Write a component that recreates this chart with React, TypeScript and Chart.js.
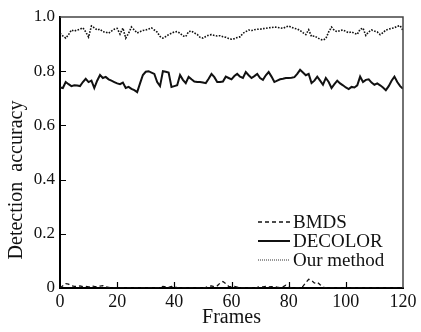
import React, { useEffect, useRef } from 'react';
import { Chart, registerables } from 'chart.js';

Chart.register(...registerables);

// Frames 0..120 (categories)
const frames: number[] = Array.from({ length: 121 }, (_, i) => i);

const bmds: number[] = [
  0.000, 0.008, 0.016, 0.014, 0.008, 0.006, 0.006, 0.008, 0.005, 0.006,
  0.004, 0.008, 0.006, 0.005, 0.007, 0.009, 0.004, 0.002, 0.000, 0.000,
  0.000, 0.000, 0.000, 0.000, 0.000, 0.000, 0.000, 0.000, 0.000, 0.000,
  0.000, 0.000, 0.000, 0.000, 0.000, 0.002, 0.006, 0.004, 0.002, 0.006,
  0.004, 0.001, 0.000, 0.000, 0.000, 0.000, 0.000, 0.000, 0.000, 0.000,
  0.000, 0.002, 0.006, 0.008, 0.005, 0.008, 0.018, 0.024, 0.016, 0.006,
  0.004, 0.006, 0.003, 0.000, 0.000, 0.000, 0.000, 0.000, 0.000, 0.002,
  0.005, 0.004, 0.006, 0.004, 0.005, 0.006, 0.003, 0.001, 0.004, 0.010,
  0.004, 0.000, 0.000, 0.000, 0.000, 0.006, 0.020, 0.032, 0.028, 0.018,
  0.022, 0.012, 0.004, 0.000, 0.000, 0.000, 0.000, 0.000, 0.000, 0.000,
  0.000, 0.000, 0.000, 0.000, 0.000, 0.000, 0.000, 0.000, 0.000, 0.000,
  0.000, 0.000, 0.000, 0.000, 0.000, 0.000, 0.000, 0.000, 0.000, 0.000,
  0.000,
];

const decolor: number[] = [
  0.740, 0.738, 0.760, 0.752, 0.745, 0.748, 0.747, 0.745, 0.760, 0.772,
  0.760, 0.765, 0.738, 0.765, 0.786, 0.775, 0.779, 0.770, 0.765, 0.760,
  0.755, 0.752, 0.758, 0.738, 0.742, 0.735, 0.730, 0.723, 0.755, 0.786,
  0.798, 0.800, 0.795, 0.790, 0.760, 0.745, 0.800, 0.798, 0.795, 0.742,
  0.745, 0.748, 0.786, 0.768, 0.756, 0.779, 0.770, 0.762, 0.760, 0.760,
  0.758, 0.756, 0.772, 0.790, 0.778, 0.760, 0.760, 0.762, 0.780, 0.775,
  0.770, 0.782, 0.790, 0.780, 0.775, 0.797, 0.785, 0.775, 0.782, 0.790,
  0.775, 0.768, 0.785, 0.797, 0.780, 0.760, 0.765, 0.770, 0.772, 0.775,
  0.775, 0.776, 0.778, 0.790, 0.805, 0.795, 0.785, 0.790, 0.756, 0.765,
  0.780, 0.765, 0.750, 0.775, 0.760, 0.738, 0.752, 0.765, 0.755, 0.748,
  0.740, 0.734, 0.742, 0.740, 0.748, 0.780, 0.760, 0.768, 0.770, 0.758,
  0.750, 0.755, 0.748, 0.740, 0.730, 0.745, 0.765, 0.780, 0.760, 0.745,
  0.735,
];

const ourMethod: number[] = [
  0.940, 0.930, 0.922, 0.935, 0.952, 0.948, 0.952, 0.955, 0.960, 0.945,
  0.926, 0.967, 0.960, 0.952, 0.955, 0.946, 0.944, 0.940, 0.948, 0.955,
  0.958, 0.937, 0.959, 0.922, 0.940, 0.963, 0.952, 0.941, 0.946, 0.950,
  0.952, 0.956, 0.960, 0.952, 0.944, 0.928, 0.922, 0.928, 0.935, 0.940,
  0.945, 0.946, 0.940, 0.930, 0.928, 0.946, 0.948, 0.941, 0.936, 0.925,
  0.922, 0.928, 0.933, 0.935, 0.932, 0.930, 0.931, 0.927, 0.925, 0.921,
  0.918, 0.920, 0.924, 0.927, 0.940, 0.946, 0.952, 0.950, 0.953, 0.955,
  0.955, 0.957, 0.958, 0.960, 0.961, 0.963, 0.962, 0.960, 0.958, 0.963,
  0.967, 0.962, 0.958, 0.956, 0.950, 0.942, 0.935, 0.953, 0.928, 0.930,
  0.924, 0.918, 0.915, 0.920, 0.945, 0.963, 0.950, 0.946, 0.950, 0.952,
  0.947, 0.942, 0.945, 0.940, 0.936, 0.955, 0.959, 0.932, 0.945, 0.952,
  0.948, 0.945, 0.935, 0.942, 0.952, 0.955, 0.958, 0.960, 0.966, 0.968,
  0.950,
];

const seriesNames: string[] = ['BMDS', 'DECOLOR', 'Our method'];
const xTicks: number[] = [0, 20, 40, 60, 80, 100, 120];
const yTicks: number[] = [0, 0.2, 0.4, 0.6, 0.8, 1.0];
const xTitle = 'Frames';
const yTitle = 'Detection  accuracy';

const SERIF = "'Liberation Serif', 'Times New Roman', serif";

const decorPlugin = {
  id: 'decor',
  afterDraw(chart: any) {
    const ctx = chart.ctx as CanvasRenderingContext2D;
    const { left, right, top, bottom } = chart.chartArea;
    const xs = chart.scales.x;
    const ys = chart.scales.y;
    ctx.save();
    // top & right border
    ctx.strokeStyle = '#444';
    ctx.lineWidth = 1.5;
    ctx.beginPath();
    ctx.moveTo(left, top);
    ctx.lineTo(right, top);
    ctx.lineTo(right, bottom);
    ctx.stroke();
    // inward ticks
    ctx.strokeStyle = '#000';
    ctx.lineWidth = 1.2;
    ctx.beginPath();
    yTicks.forEach((v) => {
      if (v <= 0 || v >= 1) return;
      const y = Math.round(ys.getPixelForValue(v)) + 0.5;
      ctx.moveTo(left, y);
      ctx.lineTo(left + 6, y);
    });
    xTicks.forEach((v) => {
      if (v <= 0 || v >= 120) return;
      const x = Math.round(xs.getPixelForValue(v)) + 0.5;
      ctx.moveTo(x, bottom);
      ctx.lineTo(x, bottom - 6);
    });
    ctx.stroke();

    // axis titles
    ctx.fillStyle = '#111';
    ctx.font = `20px ${SERIF}`;
    ctx.textAlign = 'center';
    ctx.textBaseline = 'middle';
    ctx.fillText(xTitle, (left + right) / 2, 318);
    ctx.save();
    ctx.translate(17, 180);
    ctx.rotate(-Math.PI / 2);
    ctx.font = `20px ${SERIF}`;
    ctx.fillText(yTitle, 0, 0);
    ctx.restore();

    // legend
    const rows = [222, 241, 260];
    chart.data.datasets.forEach((ds: any, i: number) => {
      const y = rows[i];
      ctx.save();
      ctx.strokeStyle = ds.legendColor || ds.borderColor;
      ctx.lineWidth = ds.legendWidth || ds.borderWidth;
      ctx.setLineDash(ds.legendDash || ds.borderDash || []);
      ctx.beginPath();
      ctx.moveTo(258, y);
      ctx.lineTo(290, y);
      ctx.stroke();
      ctx.restore();
      ctx.fillStyle = '#111';
      ctx.font = `19px ${SERIF}`;
      ctx.textAlign = 'left';
      ctx.textBaseline = 'middle';
      ctx.fillText(ds.label, 293, y + 1);
    });
    ctx.restore();
  },
};

export default function App() {
  const canvasRef = useRef<HTMLCanvasElement | null>(null);

  useEffect(() => {
    if (!canvasRef.current) return;
    const mk = (arr: number[]) => frames.map((f, i) => ({ x: f, y: arr[i] }));
    const chart = new Chart(canvasRef.current, {
      type: 'line',
      data: {
        datasets: [
          {
            label: seriesNames[0],
            data: mk(bmds),
            borderColor: '#111',
            borderWidth: 1.3,
            borderDash: [4, 3],
            pointRadius: 0,
            tension: 0,
          },
          {
            label: seriesNames[1],
            data: mk(decolor),
            borderColor: '#111',
            borderWidth: 2,
            pointRadius: 0,
            tension: 0,
          },
          {
            label: seriesNames[2],
            data: mk(ourMethod),
            borderColor: '#111',
            borderWidth: 1.6,
            borderDash: [1.6, 1.4],
            legendDash: [1, 1],
            legendWidth: 1.2,
            legendColor: '#333',
            pointRadius: 0,
            tension: 0,
          } as any,
        ],
      },
      options: {
        animation: false,
        responsive: true,
        maintainAspectRatio: false,
        layout: { padding: { top: 17, right: 18, left: 0, bottom: 0 } },
        plugins: {
          legend: { display: false },
          tooltip: { enabled: false },
        },
        scales: {
          x: {
            type: 'linear',
            min: 0,
            max: 120,
            afterFit: (s: any) => {
              s.height = 44;
            },
            afterBuildTicks: (s: any) => {
              s.ticks = xTicks.map((v) => ({ value: v }));
            },
            grid: { display: true, drawOnChartArea: false, drawTicks: false },
            border: { display: true, color: '#000', width: 2 },
            ticks: {
              color: '#111',
              font: { family: SERIF, size: 18 },
              padding: 3,
              maxRotation: 0,
              autoSkip: false,
            },
          },
          y: {
            type: 'linear',
            min: 0,
            max: 1,
            afterFit: (s: any) => {
              s.width = 60;
            },
            afterBuildTicks: (s: any) => {
              s.ticks = yTicks.map((v) => ({ value: v }));
            },
            grid: { display: true, drawOnChartArea: false, drawTicks: false },
            border: { display: true, color: '#000', width: 2 },
            ticks: {
              color: '#111',
              font: { family: SERIF, size: 17 },
              padding: 5,
              autoSkip: false,
              callback: (v: any) => (Number(v) === 0 ? '0' : Number(v).toFixed(1)),
            },
          },
        },
      },
      plugins: [decorPlugin],
    });
    return () => chart.destroy();
  }, []);

  return (
    <div style={{ position: 'fixed', left: 0, top: 0, width: 421, height: 332, background: '#fff' }}>
      <canvas ref={canvasRef} />
    </div>
  );
}
